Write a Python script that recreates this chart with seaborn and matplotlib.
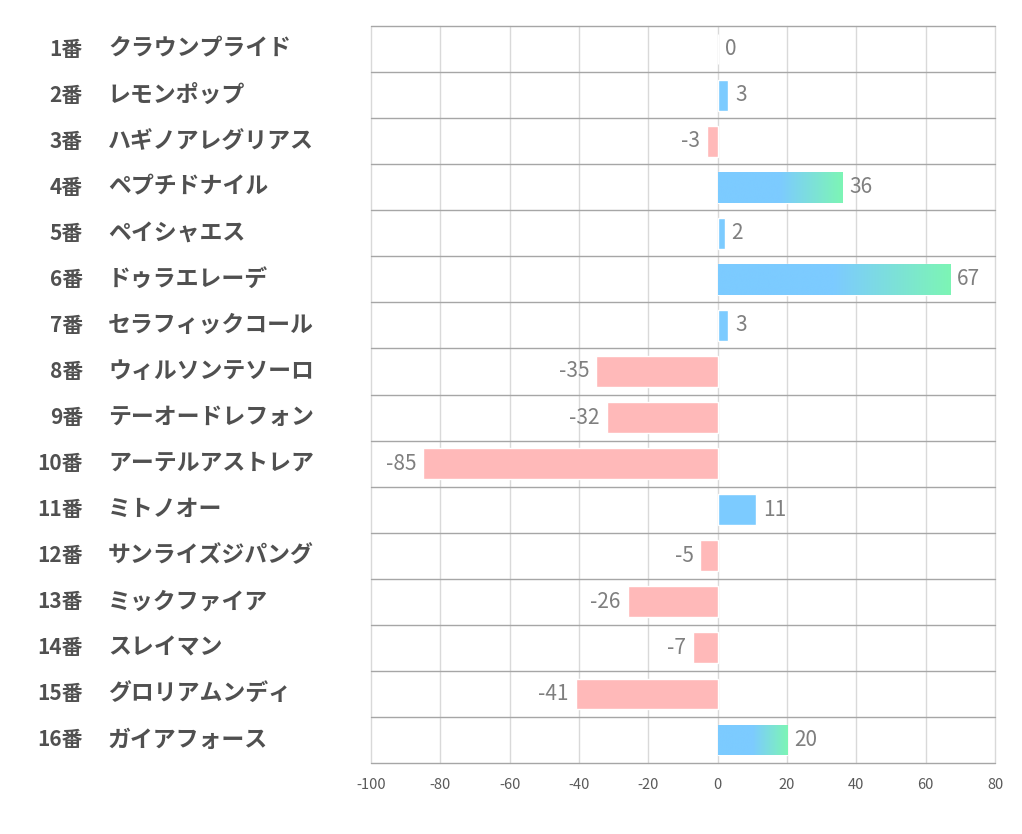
import numpy as np
import pandas as pd
import matplotlib.pyplot as plt
import seaborn as sns
from matplotlib.colors import LinearSegmentedColormap
from matplotlib.transforms import blended_transform_factory

# ==========================================
# Data
# ==========================================
numbers = ["1番", "2番", "3番", "4番", "5番", "6番", "7番", "8番",
           "9番", "10番", "11番", "12番", "13番", "14番", "15番", "16番"]
horses = ["クラウンプライド", "レモンポップ", "ハギノアレグリアス", "ペプチドナイル",
          "ペイシャエス", "ドゥラエレーデ", "セラフィックコール", "ウィルソンテソーロ",
          "テーオードレフォン", "アーテルアストレア", "ミトノオー", "サンライズジパング",
          "ミックファイア", "スレイマン", "グロリアムンディ", "ガイアフォース"]
values = [0, 3, -3, 36, 2, 67, 3, -35, -32, -85, 11, -5, -26, -7, -41, 20]
x_ticks = [-100, -80, -60, -40, -20, 0, 20, 40, 60, 80]

BLUE = "#7ccbff"
GREEN = "#7df5b5"
PINK = "#ffb9b9"

df = pd.DataFrame({"label": [n + h for n, h in zip(numbers, horses)], "value": values})
df["sign"] = np.where(df["value"] >= 0, "pos", "neg")

# ==========================================
# Plot
# ==========================================
sns.set_theme(style="white")
plt.rcParams['font.family'] = ['Noto Sans CJK JP', 'DejaVu Sans']
plt.rcParams['axes.unicode_minus'] = False

fig = plt.figure(figsize=(10.22, 8.34), dpi=100)
ax = fig.add_axes([0.363, 0.0851, 0.6106, 0.8837])

sns.barplot(data=df, x="value", y="label", hue="sign", order=df["label"],
            palette={"pos": BLUE, "neg": PINK}, dodge=False, width=0.67,
            saturation=1, legend=False, ax=ax, zorder=3)

# gradient (blue -> green) on the longer positive bars
cmap = LinearSegmentedColormap.from_list("bg", [(0, BLUE), (0.5, BLUE), (1, GREEN)])
grad = np.linspace(0, 1, 256).reshape(1, -1)
for p in list(ax.patches):
    w = p.get_width()
    if w >= 20:
        x0, y0, h = p.get_x(), p.get_y(), p.get_height()
        im = ax.imshow(grad, cmap=cmap, extent=[x0, x0 + w, y0 + h, y0],
                       aspect="auto", zorder=4, interpolation="bilinear")
        im.set_clip_path(p)

ax.set_xlim(-100, 80)
ax.set_ylim(len(values) - 0.5, -0.5)
ax.set_xticks(x_ticks)
ax.set_yticks([])
ax.set_xlabel("")
ax.set_ylabel("")
for s in ax.spines.values():
    s.set_visible(False)

# grid: light verticals, darker row separators
for xv in x_ticks:
    ax.axvline(xv, color="#d9d9d9", lw=1, zorder=1, clip_on=False)
for i in range(len(values) + 1):
    ax.axhline(i - 0.5, color="#a6a6a6", lw=1, zorder=2, clip_on=False)

ax.tick_params(axis="x", length=0, pad=11, labelsize=10.5, colors="#595959")

# value labels
for i, v in enumerate(values):
    if v >= 0:
        ax.annotate(str(v), (v, i), xytext=(5, 0), textcoords="offset points",
                    ha="left", va="center", fontsize=15, color="#7f7f7f", zorder=5)
    else:
        ax.annotate(str(v), (v, i), xytext=(-5, 0), textcoords="offset points",
                    ha="right", va="center", fontsize=15, color="#7f7f7f", zorder=5)

# row labels: number column + horse name column
trans = blended_transform_factory(fig.transFigure, ax.transData)
for i, (n, h) in enumerate(zip(numbers, horses)):
    ax.text(0.0812, i, n, transform=trans, ha="right", va="center",
            fontsize=15, fontweight="bold", color="#505050")
    ax.text(0.1057, i, h, transform=trans, ha="left", va="center",
            fontsize=16.5, fontweight="bold", color="#505050")

plt.savefig("out.png", dpi=100)
